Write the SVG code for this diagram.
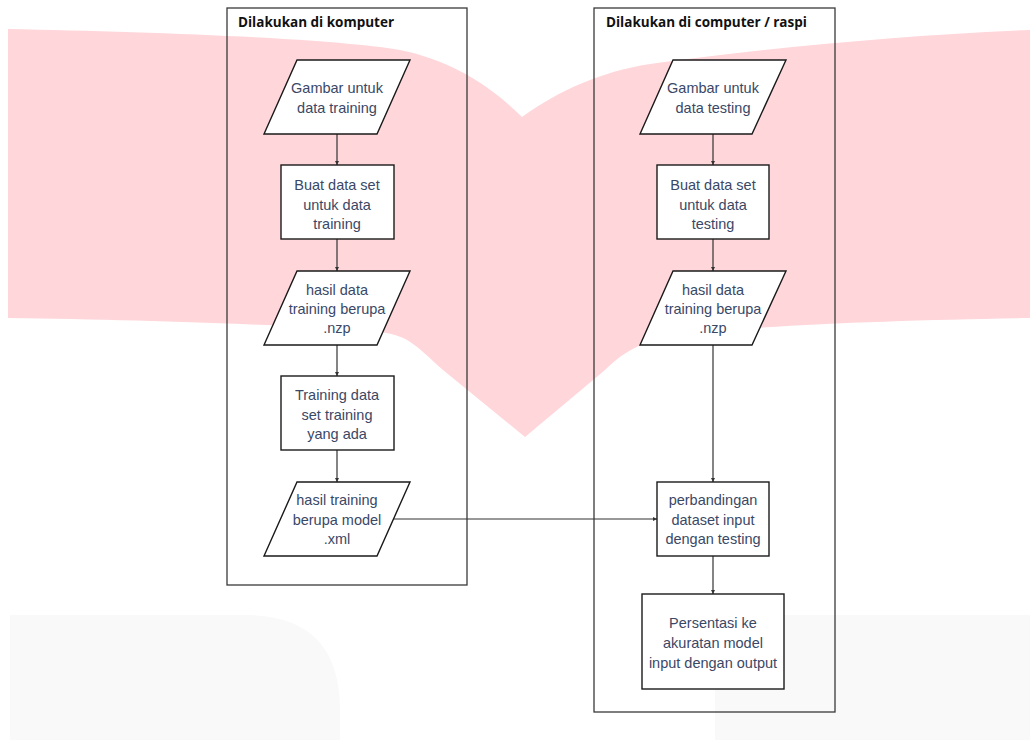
<svg xmlns="http://www.w3.org/2000/svg" width="1030" height="740" viewBox="0 0 1030 740">
<defs>
<style>
.bg{fill:#ffffff}
.pink{fill:#ffd6da}
.ghost{fill:#f9f9fa}
.cont{fill:none;stroke:#3a3a3a;stroke-width:1.3}
.title{font-family:"Open Sans","DejaVu Sans",sans-serif;font-weight:700;font-size:13.5px;fill:#111111}
.shape{fill:#ffffff;stroke:#1a1a1a;stroke-width:1.4}
.lbl{font-family:"Liberation Sans",Arial,sans-serif;font-size:14.5px;fill:#3a4866;text-anchor:middle}
.con{fill:none;stroke:#333333;stroke-width:1.2}
</style>
<marker id="ah" viewBox="0 0 4 4" markerWidth="4" markerHeight="4" refX="4" refY="2" orient="auto" markerUnits="userSpaceOnUse">
<path d="M0,0 L4,2 L0,4 z" fill="#333333"/>
</marker>
</defs>
<rect class="bg" x="0" y="0" width="1030" height="740"/>
<path class="pink" d="M 8,29 C 150,32 330,38 400,50 C 450,60 490,85 522,117 C 560,90 600,72 650,64 C 750,50 900,35 1030,30 L 1030,318 C 900,320 760,325 680,335 C 640,340 620,355 605,370 L 525,437 L 443,370 C 420,350 410,335 380,332 C 300,325 150,320 8,318 Z"/>
<path class="ghost" d="M 10,615 L 245,615 Q 340,615 340,710 L 340,740 L 10,740 Z"/>
<path class="ghost" d="M 715,625 Q 715,615 725,615 L 1030,615 L 1030,740 L 715,740 Z"/>

<g id="container-left">
<rect class="cont" x="227" y="8" width="240" height="577"/>
<text class="title" x="238" y="27">Dilakukan di komputer</text>
</g>
<g id="container-right">
<rect class="cont" x="594" y="8" width="241" height="704"/>
<text class="title" x="606" y="27">Dilakukan di computer / raspi</text>
</g>

<g id="connectors">
<line class="con" x1="337" y1="134" x2="337" y2="165" marker-end="url(#ah)"/>
<line class="con" x1="337" y1="239" x2="337" y2="271" marker-end="url(#ah)"/>
<line class="con" x1="337" y1="345" x2="337" y2="376" marker-end="url(#ah)"/>
<line class="con" x1="337" y1="450" x2="337" y2="482" marker-end="url(#ah)"/>
<line class="con" x1="394" y1="519" x2="657" y2="519" marker-end="url(#ah)"/>
<line class="con" x1="713" y1="134" x2="713" y2="165" marker-end="url(#ah)"/>
<line class="con" x1="713" y1="239" x2="713" y2="271" marker-end="url(#ah)"/>
<line class="con" x1="713" y1="345" x2="713" y2="482" marker-end="url(#ah)"/>
<line class="con" x1="713" y1="556" x2="713" y2="594" marker-end="url(#ah)"/>
</g>

<g id="n-gambar-training">
<polygon class="shape" points="297,60 410,60 377,134 264,134"/>
<text class="lbl" x="337" y="93">Gambar untuk</text>
<text class="lbl" x="337" y="113">data training</text>
</g>
<g id="n-buat-training">
<rect class="shape" x="281" y="165" width="113" height="74"/>
<text class="lbl" x="337" y="190">Buat data set</text>
<text class="lbl" x="337" y="210">untuk data</text>
<text class="lbl" x="337" y="229">training</text>
</g>
<g id="n-hasil-nzp-left">
<polygon class="shape" points="297,271 410,271 377,345 264,345"/>
<text class="lbl" x="337" y="295">hasil data</text>
<text class="lbl" x="337" y="314">training berupa</text>
<text class="lbl" x="337" y="333">.nzp</text>
</g>
<g id="n-training-data">
<rect class="shape" x="281" y="376" width="113" height="74"/>
<text class="lbl" x="337" y="400">Training data</text>
<text class="lbl" x="337" y="420">set training</text>
<text class="lbl" x="337" y="439">yang ada</text>
</g>
<g id="n-hasil-xml">
<polygon class="shape" points="297,482 410,482 377,556 264,556"/>
<text class="lbl" x="337" y="505">hasil training</text>
<text class="lbl" x="337" y="525">berupa model</text>
<text class="lbl" x="337" y="544">.xml</text>
</g>

<g id="n-gambar-testing">
<polygon class="shape" points="673,60 786,60 752,134 640,134"/>
<text class="lbl" x="713" y="93">Gambar untuk</text>
<text class="lbl" x="713" y="113">data testing</text>
</g>
<g id="n-buat-testing">
<rect class="shape" x="657" y="165" width="112" height="74"/>
<text class="lbl" x="713" y="190">Buat data set</text>
<text class="lbl" x="713" y="210">untuk data</text>
<text class="lbl" x="713" y="229">testing</text>
</g>
<g id="n-hasil-nzp-right">
<polygon class="shape" points="673,271 786,271 752,345 640,345"/>
<text class="lbl" x="713" y="295">hasil data</text>
<text class="lbl" x="713" y="314">training berupa</text>
<text class="lbl" x="713" y="333">.nzp</text>
</g>
<g id="n-perbandingan">
<rect class="shape" x="657" y="482" width="112" height="74"/>
<text class="lbl" x="713" y="505">perbandingan</text>
<text class="lbl" x="713" y="525">dataset input</text>
<text class="lbl" x="713" y="544">dengan testing</text>
</g>
<g id="n-persentasi">
<rect class="shape" x="642" y="594" width="142" height="95"/>
<text class="lbl" x="713" y="628">Persentasi ke</text>
<text class="lbl" x="713" y="648">akuratan model</text>
<text class="lbl" x="713" y="668">input dengan output</text>
</g>
</svg>
